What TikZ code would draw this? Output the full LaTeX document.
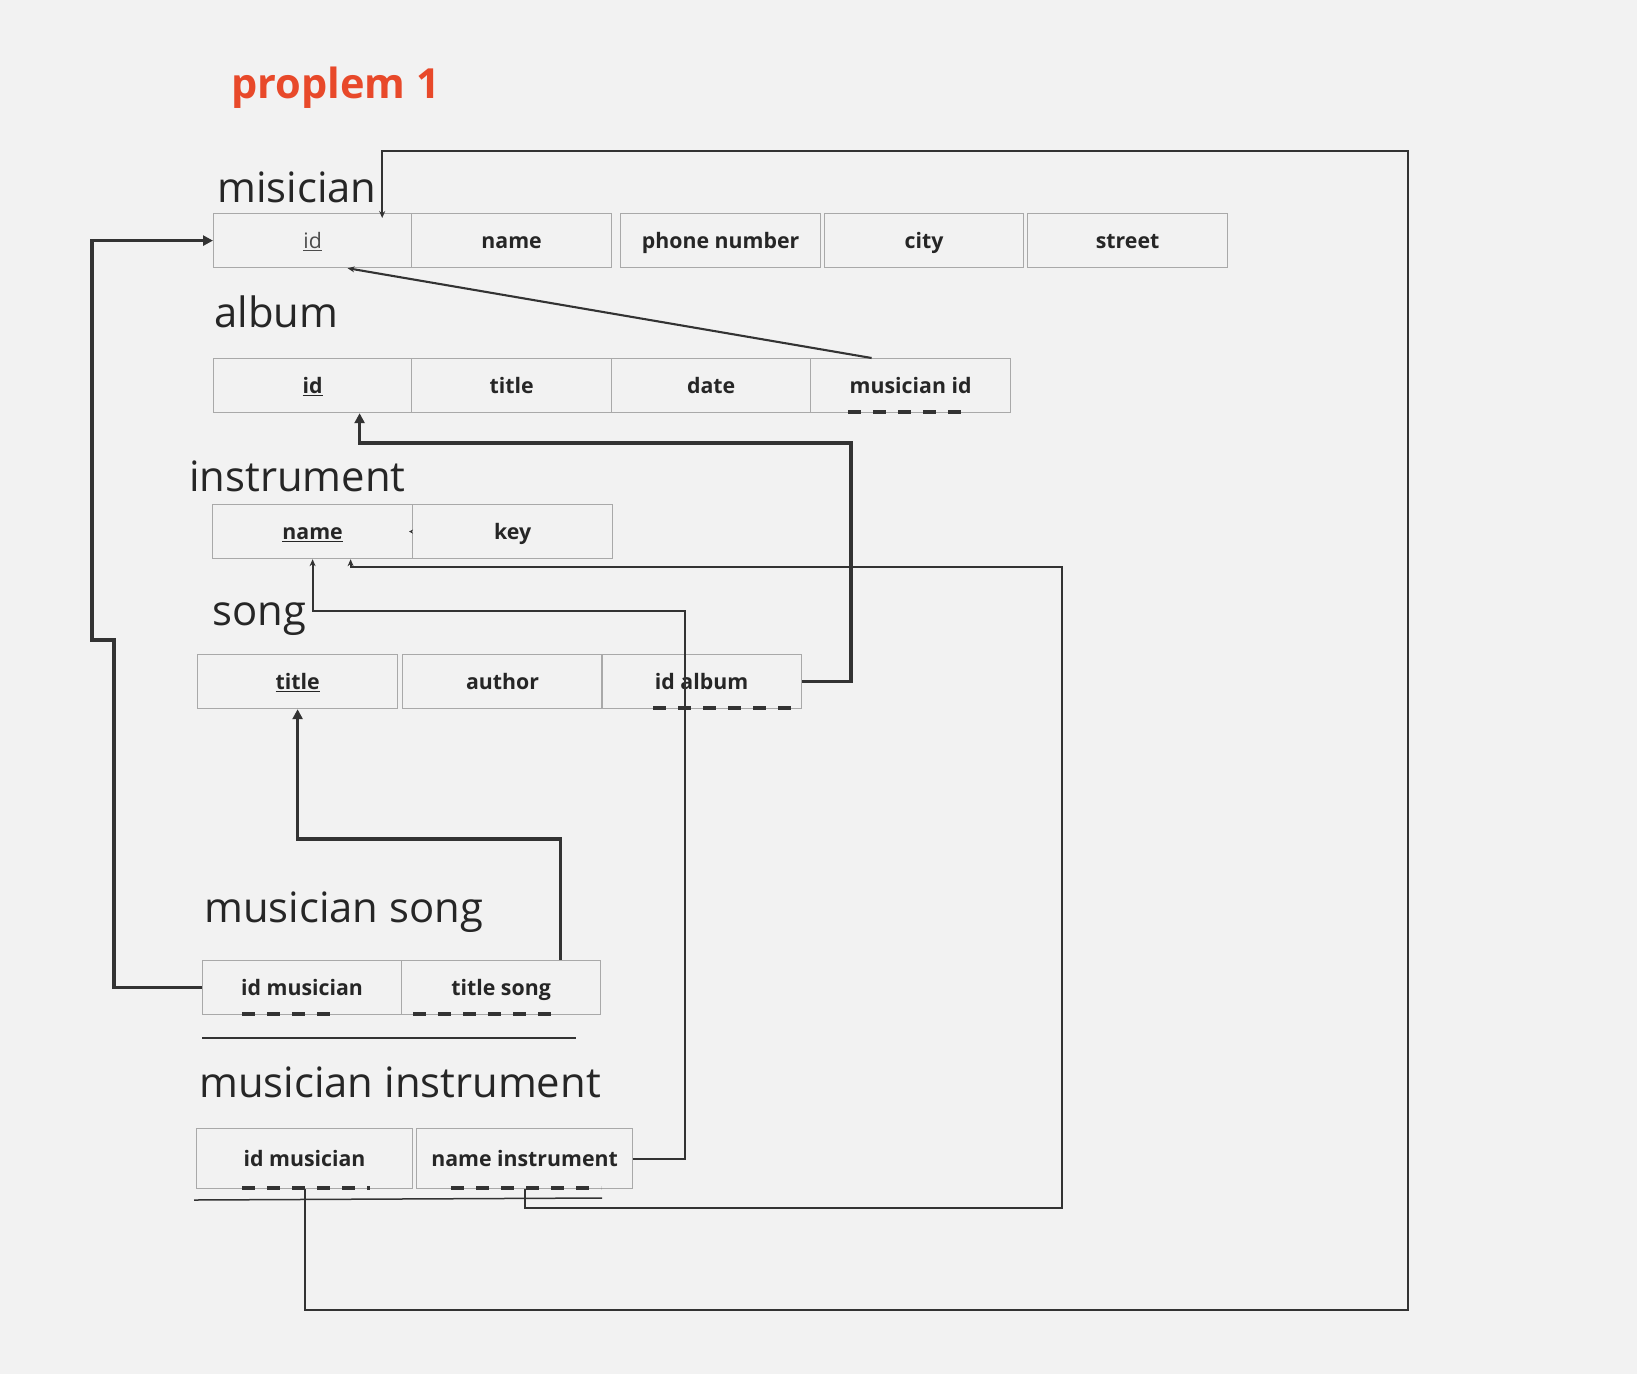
\documentclass[tikz,border=0pt]{standalone}
\usepackage{fontspec}
\setmainfont{Open Sans}
\usetikzlibrary{arrows.meta}
\definecolor{bg}{HTML}{F2F2F2}
\definecolor{ink}{HTML}{333333}
\definecolor{edge}{HTML}{A9A9A9}
\definecolor{ttl}{HTML}{E8492A}
\begin{document}
\begin{tikzpicture}[x=1pt, y=-1pt,
  bx/.style={draw=edge, line width=1.2pt, inner sep=0pt, anchor=north west, minimum height=54pt, font=\fontsize{21.3}{25}\selectfont\bfseries, text=black!85, text height=18.5pt, text depth=2pt},
  lb/.style={anchor=base west, inner sep=0pt, font=\fontsize{41.8}{48}\selectfont, text=black!85},
  fk/.style={draw=ink, line width=3.2pt, dash pattern=on 13pt off 12pt},
  ln/.style={draw=ink, line width=2.1pt},
  lnB/.style={draw=ink, line width=3.4pt},
  tipS/.style={-{Stealth[length=7pt,width=6pt]}},
  tipB/.style={-{Triangle[length=10pt,width=10pt]}}]
\fill[bg] (0,0) rectangle (1637,1374);
\useasboundingbox (0,0) rectangle (1637,1374);
\node[anchor=base west, inner sep=0pt, font=\fontsize{41.5}{48}\selectfont\bfseries, text=ttl] (tt) at (231,98) {proplem 1};
% tables
\node[lb] (tMu) at (217,202) {misician};
\node[bx, minimum width=198pt, font=\fontsize{21.3}{25}\selectfont, text=black!70] (mu1) at (213,213) {\underline{id}};
\node[bx, minimum width=200pt] (mu2) at (411,213) {name};
\node[bx, minimum width=200pt] (mu3) at (620,213) {phone number};
\node[bx, minimum width=199pt] (mu4) at (824,213) {city};
\node[bx, minimum width=200pt] (mu5) at (1027,213) {street};
\node[lb] (tAl) at (214,327) {album};
\node[bx, minimum width=198pt] (al1) at (213,358) {\underline{id}};
\node[bx, minimum width=200pt] (al2) at (411,358) {title};
\node[bx, minimum width=199pt] (al3) at (611,358) {date};
\node[bx, minimum width=200pt] (al4) at (810,358) {musician id};
\node[lb] (tIn) at (189,491) {instrument};
\node[bx, minimum width=200pt] (in1) at (212,504) {\underline{name}};
\node[bx, minimum width=200pt] (in2) at (412,504) {key};
\node[lb] (tSo) at (212,625) {song};
\node[bx, minimum width=200pt] (so1) at (197,654) {\underline{title}};
\node[bx, minimum width=200pt] (so2) at (402,654) {author};
\node[bx, minimum width=200pt] (so3) at (601,654) {id album};
\node[lb] (tMs) at (204,922) {musician song};
\node[bx, minimum width=199pt] (ms1) at (202,960) {id musician};
\node[bx, minimum width=199pt] (ms2) at (401,960) {title song};
\node[lb] (tMi) at (199,1097) {musician instrument};
\node[bx, minimum width=216pt, minimum height=60pt] (mi1) at (196,1128) {id musician};
\node[bx, minimum width=216pt, minimum height=60pt] (mi2) at (416,1128) {name instrument};
% foreign keys
\draw[fk] (848,412) -- (966,412);
\draw[fk] (653,708) -- (793,708);
\draw[fk] (242,1014) -- (339,1014);
\draw[fk] (413,1014) -- (553,1014);
\draw[fk] (242,1188) -- (370,1188);
\draw[fk] (451,1188) -- (601,1188);
\draw[ln] (202,1038) -- (576,1038);
\draw[draw=ink, line width=1.5pt] (194,1200) -- (602,1198);
% references
\draw[ln, tipS] (mi1.south) |- (1408,1310) -- (1408,151) -| ([xshift=-30pt,yshift=-5pt]mu1.north east);
\draw[ln, tipS] ([xshift=-39pt]al4.north) -- ([xshift=35pt]mu1.south);
\draw[lnB, tipB] (so3.east) -| (851,443) -| ([xshift=47pt]al1.south);
\draw[ln, tipS] (mi2.east) -| (685,611) -| (in1.south);
\draw[ln, tipS] (mi2.south) |- (1062,1208) -- (1062,567) -| ([xshift=38pt]in1.south);
\draw[ln, -{Stealth[length=4pt,width=4pt]}] (in2.west) -- ++(-3,0);
\draw[lnB, tipB] ([xshift=59.5pt]ms2.north) -- ++(0,-121) -| (so1.south);
\draw[lnB, tipB] (ms1.west) -| (114,640) -- (92,640) |- (mu1.west);
\end{tikzpicture}
\end{document}
